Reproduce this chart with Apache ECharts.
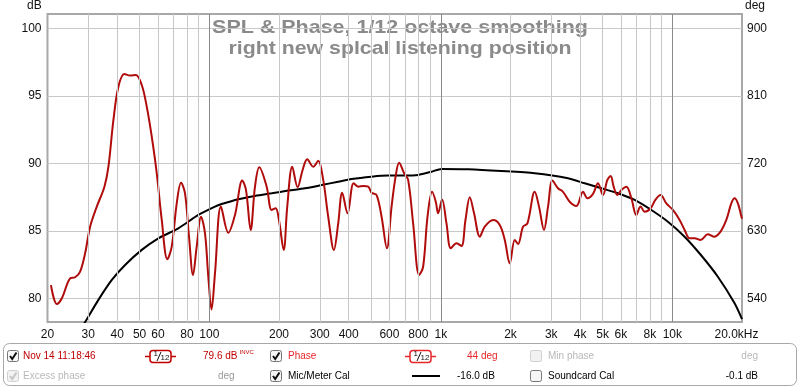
<!DOCTYPE html>
<html><head><meta charset="utf-8">
<script src="https://cdn.jsdelivr.net/npm/echarts@6/dist/echarts.min.js"></script>
<style>html,body{margin:0;padding:0;background:#fff}#c{width:800px;height:389px}</style>
</head><body><div id="c"></div>
<script>
// SPL measurement (Hz, dB)
const splFreq = [20.7,21.95,23.07,25.05,26.33,27.67,29.07,30.56,32.66,35.23,
36.66,38.52,40.48,42.96,45.47,48.12,51.07,53.67,56.41,59.29,
62.31,65.87,68.81,72.32,75.48,78.53,81.72,85.05,88.2,92.1,
95.8,99.0,102.2,105.8,112.3,120.8,129.1,138.8,144.0,150.9,
157.5,164.4,176.9,185.9,193.4,199.9,209.5,217.1,228.2,240.7,
253.0,264.8,281.1,295.4,310.5,326.3,345.3,360.4,375.0,395.6,
420.1,439.8,462.1,485.6,502.3,527.9,554.8,584.8,612.8,637.7,
660.7,694.3,722.5,759.3,806.0,838.7,876.2,917.2,951.5,973.4,
1013,1058,1105,1169,1228,1278,1334,1392,1474,1548,
1682,1797,1889,1985,2086,2156,2266,2367,2545,2656,
2791,2905,3035,3208,3371,3603,3852,4115,4299,4544,
4775,5018,5242,5416,5580,5789,6024,6331,6654,6992,
7298,7593,8060,8446,8903,9421,10060,10752,11300,11876,
12484,13250,14240,15120,16160,17110,17980,18580,19200,19860,20000];
const splDb = [80.98,79.57,80.0,81.48,81.56,81.98,83.33,85.31,86.80,88.28,
89.76,93.22,95.70,96.64,96.52,96.57,95.82,94.22,91.99,89.27,
85.81,82.90,83.83,87.04,88.57,87.79,84.57,81.73,83.83,86.05,
84.82,81.60,79.16,81.85,86.80,84.86,86.18,88.73,88.04,85.07,
88.28,89.72,88.28,86.55,86.68,85.81,83.59,86.80,89.76,88.24,
89.52,90.32,89.76,90.20,88.78,86.05,83.59,85.56,87.83,86.30,
88.53,88.28,88.33,88.28,87.83,87.66,86.05,83.71,86.80,89.02,
90.06,89.27,88.78,85.56,81.73,82.34,86.05,87.90,87.15,86.30,
87.33,85.56,83.71,84.08,83.88,85.81,87.49,86.30,84.57,85.31,
85.81,85.44,84.33,82.59,84.33,84.03,85.31,85.56,87.90,86.80,
85.07,86.80,88.73,88.16,87.90,87.16,86.85,87.90,87.42,87.74,
88.53,87.66,88.78,89.07,88.28,87.66,88.04,88.28,87.42,86.18,
86.80,86.42,86.68,87.30,87.66,87.04,86.55,85.81,85.07,84.45,
84.45,84.33,84.75,84.57,84.95,85.81,87.04,87.42,87.04,86.10,85.9];

// Mic/Meter calibration curve (Hz, dB)
const calFreq = [28.5,29.57,33.18,37.92,43.27,51.07,60.24,73.48,89.66,105.8,
113.1,133.4,157.5,185.9,219.3,258.8,305.6,360.4,411.8,502.3,
592.4,699.1,798.0,911.7,1007,1312,1828,2545,3543,4184,
4938,5824,6875,8118,9572,11300,13290,15730,18580,20000];
const calDb = [78.0,78.44,79.88,81.36,82.47,83.59,84.45,85.19,86.18,86.80,
86.99,87.35,87.59,87.79,87.99,88.16,88.40,88.65,88.85,89.02,
89.10,89.10,89.15,89.39,89.60,89.57,89.44,89.27,88.90,88.53,
88.16,87.79,87.30,86.55,85.68,84.57,83.21,81.60,79.63,78.46];

// Axis grid/ticks
const gridFreqs = [20,30,40,50,60,70,80,90,100,200,300,400,500,600,700,800,900,
1000,2000,3000,4000,5000,6000,7000,8000,9000,10000,20000];
const majorFreqs = [100,1000,10000];
const freqLabels = {20:'20',30:'30',40:'40',50:'50',60:'60',80:'80',100:'100',200:'200',300:'300',
400:'400',600:'600',800:'800',1000:'1k',2000:'2k',3000:'3k',4000:'4k',5000:'5k',6000:'6k',
8000:'8k',10000:'10k',20000:'20.0kHz'};
const dbTicks = [80,85,90,95,100];
const degTicks = [540,630,720,810,900];
const titleLines = ['SPL & Phase, 1/12 octave smoothing', 'right new splcal listening position'];

const FONT = "'Liberation Sans', Arial, sans-serif";
const chart = echarts.init(document.getElementById('c'), null, {renderer: 'canvas'});

const markData = gridFreqs.map(f => {
  const edge = (f === 20 || f === 20000);
  const major = majorFreqs.includes(f);
  const item = {
    xAxis: f,
    lineStyle: {color: edge ? 'rgba(0,0,0,0)' : (major ? '#8a8a8a' : '#c8c8c8'), width: 1, type: 'solid'},
    label: {show: freqLabels[f] !== undefined, formatter: freqLabels[f] || '', color: '#111'}
  };
  if (f === 20000) item.label.padding = [0, 11, 0, 0];
  return item;
});

function checkbox(x, y, checked, disabled) {
  const ch = [{
    type: 'rect', shape: {x: x + 0.5, y: y + 0.5, width: 11, height: 11, r: 2},
    style: {fill: disabled ? '#f2f2f2' : '#f6f6f6', stroke: disabled ? '#cfcfcf' : '#767676', lineWidth: 1}
  }];
  if (checked) ch.push({
    type: 'polyline', shape: {points: [[x + 3, y + 6], [x + 5.2, y + 9], [x + 9.5, y + 2.5]]},
    style: {stroke: disabled ? '#c4c4c4' : '#111', lineWidth: 2, fill: null}
  });
  return {type: 'group', children: ch};
}
function txt(x, y, s, color, opts) {
  return Object.assign({type: 'text', x: x, y: y,
    style: Object.assign({text: s, fill: color, font: '10px ' + FONT, verticalAlign: 'middle'}, opts || {})});
}
function smoothIcon(x0, y, color) {
  return {type: 'group', children: [
    {type: 'line', shape: {x1: x0, y1: y, x2: x0 + 5, y2: y}, style: {stroke: color, lineWidth: 1.5}},
    {type: 'rect', shape: {x: x0 + 5, y: y - 6, width: 21, height: 12, r: 3}, style: {fill: '#fff', stroke: color, lineWidth: 1.5}},
    {type: 'line', shape: {x1: x0 + 26, y1: y, x2: x0 + 31, y2: y}, style: {stroke: color, lineWidth: 1.5}},
    {type: 'text', x: x0 + 8.5, y: y - 2.5, style: {text: '1', fill: '#111', font: '8px ' + FONT, verticalAlign: 'middle'}},
    {type: 'line', shape: {x1: x0 + 12, y1: y + 4.5, x2: x0 + 16, y2: y - 4.5}, style: {stroke: '#111', lineWidth: 1}},
    {type: 'text', x: x0 + 15.5, y: y + 1.5, style: {text: '12', fill: '#111', font: '8px ' + FONT, verticalAlign: 'middle'}}
  ]};
}

const RED = '#c00000', RED2 = '#e8262a', GRAY = '#b9b9b9';

const option = {
  backgroundColor: '#fff',
  animation: false,
  grid: {left: 47.5, right: 58, top: 14, bottom: 67, show: true, borderColor: '#a8a8a8', borderWidth: 2, backgroundColor: 'transparent'},
  xAxis: {
    type: 'log', logBase: 10, min: 20, max: 20000,
    axisLine: {show: false}, axisTick: {show: false}, axisLabel: {show: false}, splitLine: {show: false}
  },
  yAxis: [{
    type: 'value', min: 78.24, max: 101.09, position: 'left',
    axisLine: {show: false},
    axisTick: {show: false, customValues: dbTicks},
    axisLabel: {customValues: dbTicks, color: '#111', fontFamily: FONT, fontSize: 12, margin: 6},
    splitLine: {show: true, lineStyle: {color: '#c8c8c8', width: 1}}
  }, {
    type: 'value', min: 508.3, max: 919.6, position: 'right',
    axisLine: {show: false},
    axisTick: {show: false, customValues: degTicks},
    axisLabel: {customValues: degTicks, color: '#111', fontFamily: FONT, fontSize: 12, margin: 5},
    splitLine: {show: false}
  }],
  series: [{
    type: 'line', z: 1, silent: true, data: [[1000, 90]], showSymbol: false, symbol: 'none',
    lineStyle: {opacity: 0},
    markLine: {
      silent: true, symbol: 'none', animation: false,
      label: {position: 'start', distance: 7, color: '#111', fontFamily: FONT, fontSize: 12},
      emphasis: {disabled: true},
      data: markData
    }
  }, {
    name: 'Mic/Meter Cal', type: 'line', z: 3, yAxisIndex: 0,
    data: calFreq.map((f, i) => [f, calDb[i]]),
    showSymbol: false, symbol: 'none', smooth: 0.25, clip: true,
    lineStyle: {color: '#000', width: 2}
  }, {
    name: 'Nov 14 11:18:46', type: 'line', z: 4, yAxisIndex: 0,
    data: splFreq.map((f, i) => [f, splDb[i]]),
    showSymbol: false, symbol: 'none', smooth: 0.35, clip: true,
    lineStyle: {color: '#b00c0c', width: 2}
  }],
  graphic: [
    {type: 'text', z: -10, x: 400, y: 27.5, scaleX: 1.13, style: {text: titleLines[0], fill: '#8a8a8a', font: 'bold 19px ' + FONT, align: 'center', verticalAlign: 'middle'}},
    {type: 'text', z: -10, x: 400, y: 48.5, scaleX: 1.12, style: {text: titleLines[1], fill: '#8a8a8a', font: 'bold 19px ' + FONT, align: 'center', verticalAlign: 'middle'}},
    {type: 'text', x: 27, y: 0, style: {text: 'dB', fill: '#111', font: '12px ' + FONT}},
    {type: 'text', x: 745, y: 0, style: {text: 'deg', fill: '#111', font: '12px ' + FONT}},
    {type: 'rect', shape: {x: 3.5, y: 343.5, width: 793, height: 42, r: 6}, style: {fill: '#fff', stroke: '#a8a8a8', lineWidth: 1}},
    checkbox(7, 350, true, false),
    txt(23, 356, 'Nov 14 11:18:46', RED),
    smoothIcon(145, 356.5, RED),
    txt(203, 356, '79.6 dB', RED),
    txt(239.5, 352.5, 'INVC', RED, {font: '6px ' + FONT}),
    checkbox(270, 350, true, false),
    txt(288, 356, 'Phase', RED2),
    smoothIcon(405, 356.5, RED2),
    txt(467, 356, '44 deg', RED2),
    checkbox(530, 350, false, true),
    txt(548, 356, 'Min phase', GRAY),
    txt(758, 356, 'deg', GRAY, {align: 'right'}),
    checkbox(7, 370, true, true),
    txt(23, 376, 'Excess phase', GRAY),
    txt(218, 376, 'deg', '#9a9a9a'),
    checkbox(270, 370, true, false),
    txt(288, 376, 'Mic/Meter Cal', '#000'),
    {type: 'line', shape: {x1: 412, y1: 376, x2: 440, y2: 376}, style: {stroke: '#000', lineWidth: 2}},
    txt(457, 376, '-16.0 dB', '#000'),
    checkbox(530, 370, false, false),
    txt(548, 376, 'Soundcard Cal', '#000'),
    txt(758, 376, '-0.1 dB', '#000', {align: 'right'})
  ]
};
chart.setOption(option);
</script>
</body></html>
